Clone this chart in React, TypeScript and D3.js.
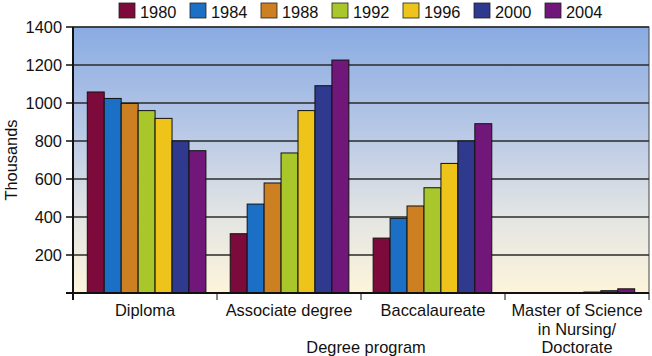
import React from "react";
import * as d3 from "d3";

const categories = ["Diploma", "Associate degree", "Baccalaureate", "Master of Science in Nursing/ Doctorate"];
const categoryLines = [["Diploma"], ["Associate degree"], ["Baccalaureate"], ["Master of Science", "in Nursing/", "Doctorate"]];
const years = ["1980", "1984", "1988", "1992", "1996", "2000", "2004"];
const colors = ["#7c0a3a", "#1b70c6", "#cc8022", "#a9c62a", "#eec41a", "#2f3a8e", "#72177a"];
const diploma = [1058, 1024, 998, 960, 919, 800, 749];
const associate = [312, 468, 579, 737, 960, 1091, 1226];
const baccalaureate = [289, 393, 458, 554, 682, 800, 891];
const master = [0, 0, 0, 0, 5, 12, 22];
const seriesByCategory = [diploma, associate, baccalaureate, master];
const yTicks = [0, 200, 400, 600, 800, 1000, 1200, 1400];

export default function App() {
  const W = 652, H = 356;
  const left = 73, right = 649, top = 27, bottom = 293;
  const x0 = d3.scaleBand().domain(categories).range([left, right]).paddingInner(0.17).paddingOuter(0.1);
  const x1 = d3.scaleBand().domain(years).range([0, x0.bandwidth()]);
  const y = d3.scaleLinear().domain([0, 1400]).range([bottom, top]);
  const step = (right - left) / categories.length;
  const font = "'Liberation Sans', Arial, Helvetica, sans-serif";
  const fs = 16.4;

  return (
    <svg width={W} height={H} style={{ position: "absolute", left: 0, top: 0 }} fontFamily={font}>
      <defs>
        <linearGradient id="bg" x1="0" y1="0" x2="0" y2="1">
          <stop offset="0" stopColor="#89abe2" />
          <stop offset="0.4" stopColor="#b9c9e6" />
          <stop offset="0.7" stopColor="#e2e4e4" />
          <stop offset="1" stopColor="#fdf4da" />
        </linearGradient>
      </defs>
      <rect x={left} y={top} width={right - left} height={bottom - top} fill="url(#bg)" stroke="#444" strokeWidth={1} />
      {yTicks.filter(t => t > 0).map(t => (
        <line key={t} x1={left} x2={right} y1={y(t)} y2={y(t)} stroke="#2a2a2a" strokeWidth={1.3} />
      ))}
      {categories.map((c, ci) => (
        <g key={c} transform={`translate(${x0(c)},0)`}>
          {years.map((yr, i) => {
            const v = seriesByCategory[ci][i];
            if (v <= 0) return null;
            return (
              <rect key={yr} x={x1(yr)} y={y(v)} width={x1.bandwidth()} height={bottom - y(v)}
                fill={colors[i]} stroke="#111" strokeWidth={1} />
            );
          })}
        </g>
      ))}
      <line x1={left} x2={left} y1={top} y2={bottom + 7} stroke="#111" strokeWidth={2} />
      <line x1={left - 7} x2={right} y1={bottom} y2={bottom} stroke="#111" strokeWidth={2} />
      {yTicks.map(t => (
        <g key={t}>
          <line x1={left - 7} x2={left} y1={y(t)} y2={y(t)} stroke="#111" strokeWidth={1.5} />
          <text x={left - 11} y={y(t)} dy="0.36em" textAnchor="end" fontSize={fs} fill="#111">{t === 0 ? "" : t}</text>
        </g>
      ))}
      {d3.range(categories.length + 1).map(i => (
        <line key={i} x1={left + i * step} x2={left + i * step} y1={bottom} y2={bottom + 7} stroke="#111" strokeWidth={1} />
      ))}
      {categories.map((c, ci) => (
        <text key={c} x={left + step * (ci + 0.5)} y={316} textAnchor="middle" fontSize={fs} fill="#111">
          {categoryLines[ci].map((ln, li) => (
            <tspan key={li} x={left + step * (ci + 0.5)} dy={li === 0 ? 0 : 18.5}>{ln}</tspan>
          ))}
        </text>
      ))}
      <text x={366} y={353} textAnchor="middle" fontSize={fs} fill="#111">Degree program</text>
      <text transform={`translate(17,${(top + bottom) / 2}) rotate(-90)`} textAnchor="middle" fontSize={fs} fill="#111">Thousands</text>
      {years.map((yr, i) => (
        <g key={yr} transform={`translate(${119 + i * 71},3)`}>
          <rect x={0} y={0} width={16} height={15} fill={colors[i]} stroke="#222" strokeWidth={0.8} />
          <text x={21} y={14.5} fontSize={fs} fill="#111">{yr}</text>
        </g>
      ))}
    </svg>
  );
}
